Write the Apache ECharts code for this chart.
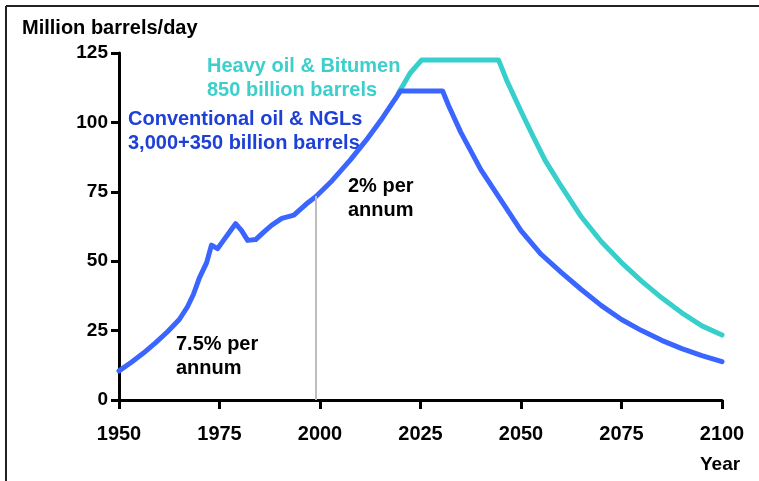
<!DOCTYPE html>
<html>
<head>
<meta charset="utf-8">
<script src="https://cdn.jsdelivr.net/npm/echarts@6/dist/echarts.min.js"></script>
<style>
  html, body { margin: 0; padding: 0; background: #fff; }
  #main { width: 759px; height: 481px; }
</style>
</head>
<body>
<div id="main"></div>
<script>
// conventional oil & NGLs (million barrels/day)
var convYears = [1950, 1953, 1956, 1959, 1962, 1965, 1967, 1968.5, 1970, 1971.8, 1973, 1974.5, 1976, 1977.5, 1979, 1980.5, 1982, 1984, 1986, 1988, 1990.5, 1993.5, 1996.5, 1999,
  2003, 2007.5, 2011.5, 2015.5, 2020, 2030.5, 2032, 2035, 2040, 2045, 2050, 2055, 2060, 2065, 2070, 2075, 2080, 2085, 2090, 2095, 2100];
var convValues = [10.5, 13.5, 16.8, 20.5, 24.5, 29, 33.5, 38, 44, 49.5, 55.8, 54.5, 57.5, 60.5, 63.5, 61, 57.5, 57.8, 60.5, 63, 65.4, 66.6, 70.5, 73.3,
  79, 86.4, 93.6, 101.5, 111.3, 111.3, 106, 96.5, 83, 72, 61, 52.5, 46, 39.8, 34, 29, 25, 21.5, 18.5, 16, 13.8];

// heavy oil & bitumen added on top
var heavyYears = [2019.5, 2022.4, 2025.3, 2044.4, 2046.4, 2050, 2053, 2056, 2060, 2065, 2070, 2075, 2080, 2085, 2090, 2095, 2100];
var heavyValues = [110.5, 117.7, 122.5, 122.5, 115.3, 104, 95, 86.3, 77, 66, 57, 49.5, 42.8, 36.8, 31.4, 26.7, 23.4];

// grey marker where the growth rate changes: [year, value]
var rateChange = [1999, 73.5];

var xTicks = [1950, 2100, 25];
var yTicks = [0, 125, 25];

function pairs(xs, ys) {
  var out = [];
  for (var i = 0; i < xs.length; i++) out.push([xs[i], ys[i]]);
  return out;
}

var FONT = '"Liberation Sans", Arial, Helvetica, sans-serif';

var chart = echarts.init(document.getElementById('main'));

option = {
  animation: false,
  backgroundColor: '#fff',
  grid: {
    left: 119,
    right: 37,
    top: 53,
    bottom: 81,
    containLabel: false
  },
  xAxis: {
    type: 'value',
    min: xTicks[0],
    max: xTicks[1],
    interval: xTicks[2],
    splitLine: { show: false },
    axisLine: { onZero: false, lineStyle: { color: '#000', width: 3 } },
    axisTick: { show: true, inside: false, length: 9, lineStyle: { color: '#000', width: 3 } },
    axisLabel: {
      margin: 24, color: '#000', fontSize: 20, fontWeight: 'bold', fontFamily: FONT,
      formatter: function (v) { return String(v); }
    }
  },
  yAxis: {
    type: 'value',
    min: yTicks[0],
    max: yTicks[1],
    interval: yTicks[2],
    splitLine: { show: false },
    axisLine: { show: true, lineStyle: { color: '#000', width: 3 } },
    axisTick: { show: true, inside: false, length: 8, lineStyle: { color: '#000', width: 3 } },
    axisLabel: { margin: 11, color: '#000', fontSize: 19, fontWeight: 'bold', fontFamily: FONT }
  },
  series: [
    {
      name: 'Heavy oil & Bitumen',
      type: 'line',
      data: pairs(heavyYears, heavyValues),
      showSymbol: false,
      symbol: 'none',
      lineStyle: { color: '#36cfcb', width: 5, cap: 'round', join: 'round' },
      z: 2
    },
    {
      name: 'Conventional oil & NGLs',
      type: 'line',
      data: pairs(convYears, convValues),
      showSymbol: false,
      symbol: 'none',
      lineStyle: { color: '#3a66ff', width: 5, cap: 'round', join: 'round' },
      z: 3,
      markLine: {
        silent: true,
        symbol: 'none',
        label: { show: false },
        lineStyle: { color: '#bdbdbd', width: 2, type: 'solid' },
        data: [[{ coord: [rateChange[0], 0] }, { coord: [rateChange[0], rateChange[1]] }]]
      }
    }
  ],
  graphic: [
    // frame
    { type: 'line', shape: { x1: 6, y1: 6, x2: 759, y2: 6 }, style: { stroke: '#222', lineWidth: 2 } },
    { type: 'line', shape: { x1: 6, y1: 6, x2: 6, y2: 481 }, style: { stroke: '#222', lineWidth: 2 } },
    {
      type: 'text', left: 22, top: 18,
      style: { text: 'Million barrels/day', font: 'bold 20px ' + FONT, fill: '#000' }
    },
    {
      type: 'text', left: 700, top: 455,
      style: { text: 'Year', font: 'bold 19px ' + FONT, fill: '#000' }
    },
    {
      type: 'text', left: 207, top: 54,
      style: { text: 'Heavy oil & Bitumen\n850 billion barrels', font: 'bold 20px ' + FONT, fill: '#3ccfcb', lineHeight: 24 }
    },
    {
      type: 'text', left: 128, top: 108,
      style: { text: 'Conventional oil & NGLs\n3,000+350 billion barrels', font: 'bold 20px ' + FONT, fill: '#1e40d6', lineHeight: 23.5 }
    },
    {
      type: 'text', left: 348, top: 174,
      style: { text: '2% per\nannum', font: 'bold 20px ' + FONT, fill: '#000', lineHeight: 24 }
    },
    {
      type: 'text', left: 176, top: 333,
      style: { text: '7.5% per\nannum', font: 'bold 20px ' + FONT, fill: '#000', lineHeight: 23.5 }
    }
  ]
};

chart.setOption(option);
</script>
</body>
</html>
